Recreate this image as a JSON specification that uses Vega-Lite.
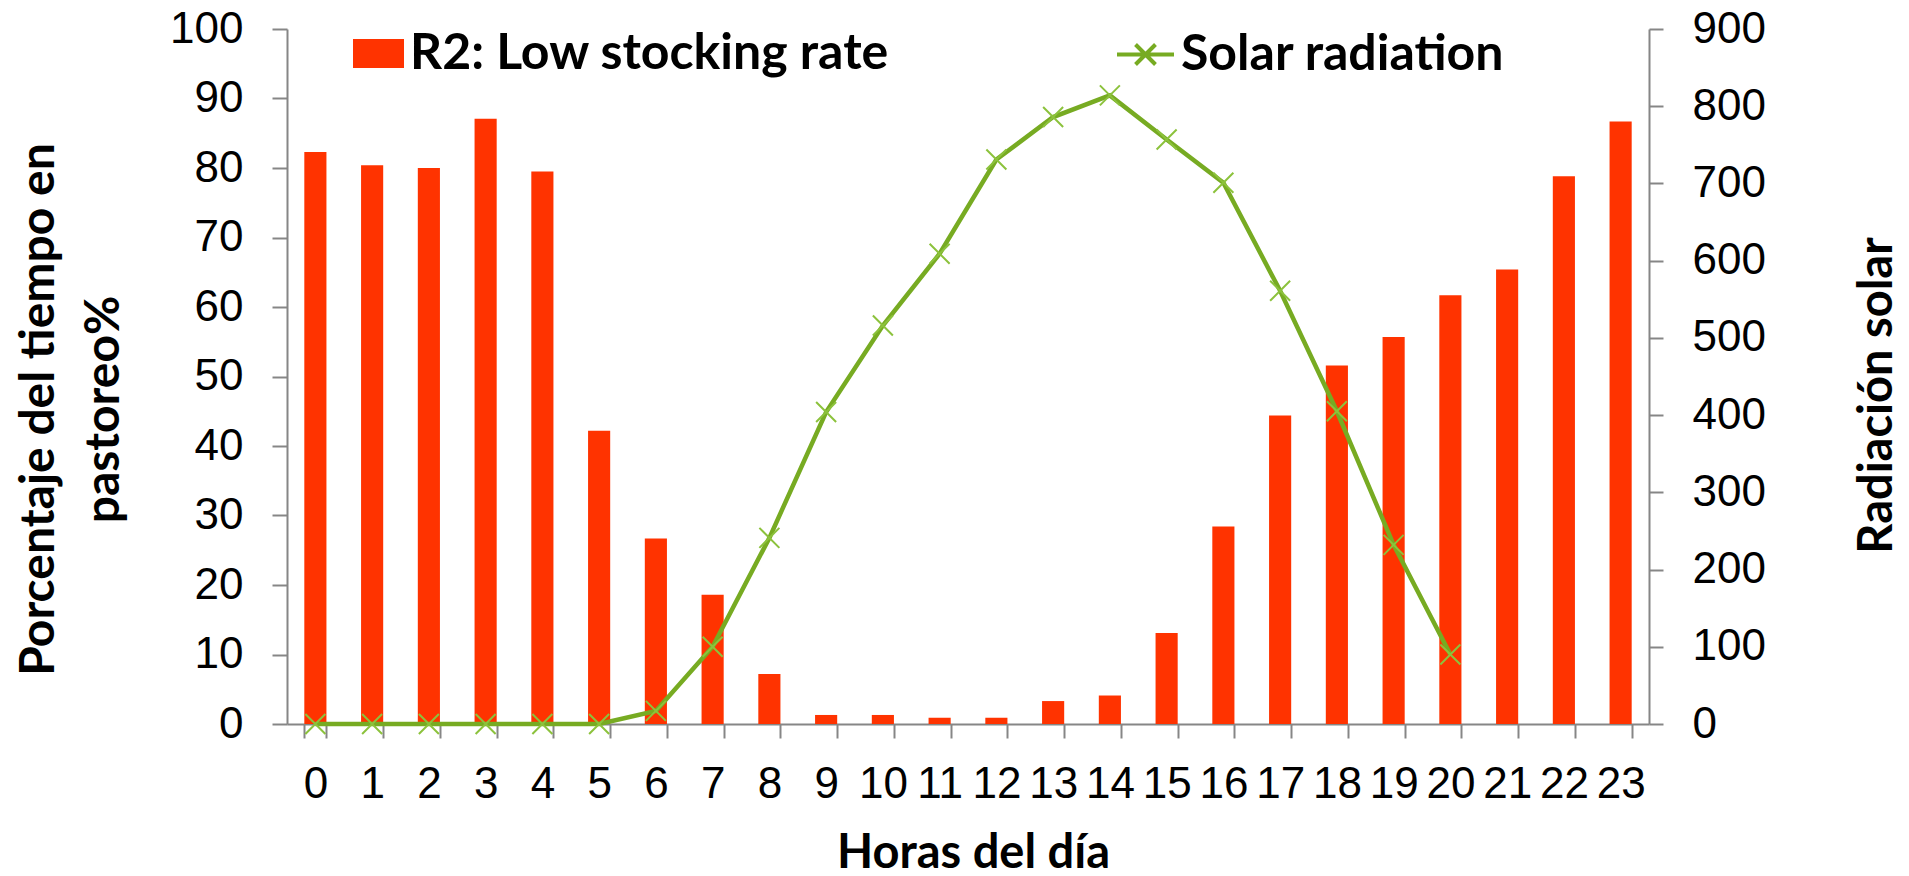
{
  "$schema": "https://vega.github.io/schema/vega-lite/v6.json",
  "width": 1362,
  "height": 695,
  "autosize": {"type": "none"},
  "padding": {"left": 287, "top": 29, "right": 260, "bottom": 152},
  "background": "white",
  "config": {
    "view": {"stroke": null},
    "axis": {
      "grid": false,
      "domainColor": "#868686",
      "domainWidth": 2,
      "tickColor": "#868686",
      "tickWidth": 2,
      "labelColor": "black",
      "labelFont": "Liberation Sans",
      "labelFontSize": 44,
      "titleFont": "Lato",
      "titleFontWeight": "bold",
      "titleFontSize": 47,
      "titleColor": "black",
      "labelOverlap": false
    }
  },
  "data": {
    "values": [
      {"hour": 0, "pct": 82.3, "rad": 0},
      {"hour": 1, "pct": 80.4, "rad": 0},
      {"hour": 2, "pct": 80.0, "rad": 0},
      {"hour": 3, "pct": 87.1, "rad": 0},
      {"hour": 4, "pct": 79.5, "rad": 0},
      {"hour": 5, "pct": 42.2, "rad": 0},
      {"hour": 6, "pct": 26.7, "rad": 17},
      {"hour": 7, "pct": 18.6, "rad": 100},
      {"hour": 8, "pct": 7.2, "rad": 241},
      {"hour": 9, "pct": 1.3, "rad": 404},
      {"hour": 10, "pct": 1.3, "rad": 516},
      {"hour": 11, "pct": 0.9, "rad": 609},
      {"hour": 12, "pct": 0.9, "rad": 731},
      {"hour": 13, "pct": 3.3, "rad": 786},
      {"hour": 14, "pct": 4.1, "rad": 814},
      {"hour": 15, "pct": 13.1, "rad": 757},
      {"hour": 16, "pct": 28.4, "rad": 701},
      {"hour": 17, "pct": 44.4, "rad": 561},
      {"hour": 18, "pct": 51.6, "rad": 405},
      {"hour": 19, "pct": 55.7, "rad": 232},
      {"hour": 20, "pct": 61.7, "rad": 90},
      {"hour": 21, "pct": 65.4, "rad": null},
      {"hour": 22, "pct": 78.8, "rad": null},
      {"hour": 23, "pct": 86.7, "rad": null}
    ]
  },
  "encoding": {
    "x": {
      "field": "hour",
      "type": "ordinal",
      "sort": "ascending",
      "scale": {"paddingInner": 0.61, "paddingOuter": 0.305},
      "axis": {
        "title": "Horas del día",
        "labelAngle": 0,
        "tickBand": "extent",
        "tickSize": 14,
        "labelBaseline": "alphabetic",
        "labelPadding": 59,
        "titleX": 686,
        "titleY": 143,
        "titleBaseline": "alphabetic",
        "titleAlign": "center"
      }
    }
  },
  "layer": [
    {
      "mark": {"type": "bar", "color": "#FF3300"},
      "encoding": {
        "y": {
          "field": "pct",
          "type": "quantitative",
          "scale": {"domain": [0, 100], "nice": false},
          "axis": {
            "orient": "left",
            "values": [0, 10, 20, 30, 40, 50, 60, 70, 80, 90, 100],
            "tickSize": 15,
            "labelPadding": 29,
            "title": ["Porcentaje del tiempo en", "pastoreo%"],
            "titleFontSize": 48,
            "titleAngle": 270,
            "titleX": -234,
            "titleY": 380,
            "titleBaseline": "alphabetic",
            "titleAlign": "center",
            "titleLineHeight": 65
          }
        },
        "fill": {
          "datum": "R2: Low stocking rate",
          "scale": {"range": ["#FF3300"]},
          "legend": {
            "orient": "none",
            "legendX": 66,
            "legendY": -1,
            "title": null,
            "padding": 0,
            "symbolType": "M-1,-0.57H1V0.57H-1Z",
            "symbolSize": 2601,
            "symbolStrokeWidth": 0,
            "labelFont": "Lato",
            "labelFontWeight": "bold",
            "labelFontSize": 50,
            "labelColor": "black",
            "labelOffset": 6,
            "labelLimit": 0
          }
        }
      }
    },
    {
      "transform": [{"filter": "isValid(datum.rad)"}],
      "encoding": {
        "y": {
          "field": "rad",
          "type": "quantitative",
          "scale": {"domain": [0, 900], "nice": false},
          "axis": {
            "orient": "right",
            "values": [0, 100, 200, 300, 400, 500, 600, 700, 800, 900],
            "tickSize": 14,
            "labelPadding": 29,
            "title": "Radiación solar",
            "titleAngle": 270,
            "titleX": 242,
            "titleY": 366,
            "titleBaseline": "alphabetic",
            "titleAlign": "center"
          }
        }
      },
      "layer": [
        {
          "mark": {"type": "line", "strokeWidth": 4.5},
          "encoding": {
            "stroke": {
              "datum": "Solar radiation",
              "scale": {"range": ["#77AB22"]},
              "legend": {
                "orient": "none",
                "legendX": 828,
                "legendY": -5,
                "title": null,
                "padding": 0,
                "symbolType": "M-1,0L1,0M-0.35,-0.35L0.35,0.35M-0.35,0.35L0.35,-0.35",
                "symbolSize": 3249,
                "symbolStrokeWidth": 4,
                "symbolFillColor": "transparent",
                "labelFont": "Lato",
                "labelFontWeight": "bold",
                "labelFontSize": 50,
                "labelColor": "black",
                "labelOffset": 5,
                "labelLimit": 0
              }
            }
          }
        },
        {
          "mark": {
            "type": "point",
            "shape": "M-1,-1L1,1M-1,1L1,-1",
            "size": 400,
            "filled": false,
            "stroke": "#8CC23C",
            "strokeWidth": 2,
            "opacity": 1
          },
          "encoding": {}
        }
      ]
    }
  ],
  "resolve": {"scale": {"y": "independent"}}
}
